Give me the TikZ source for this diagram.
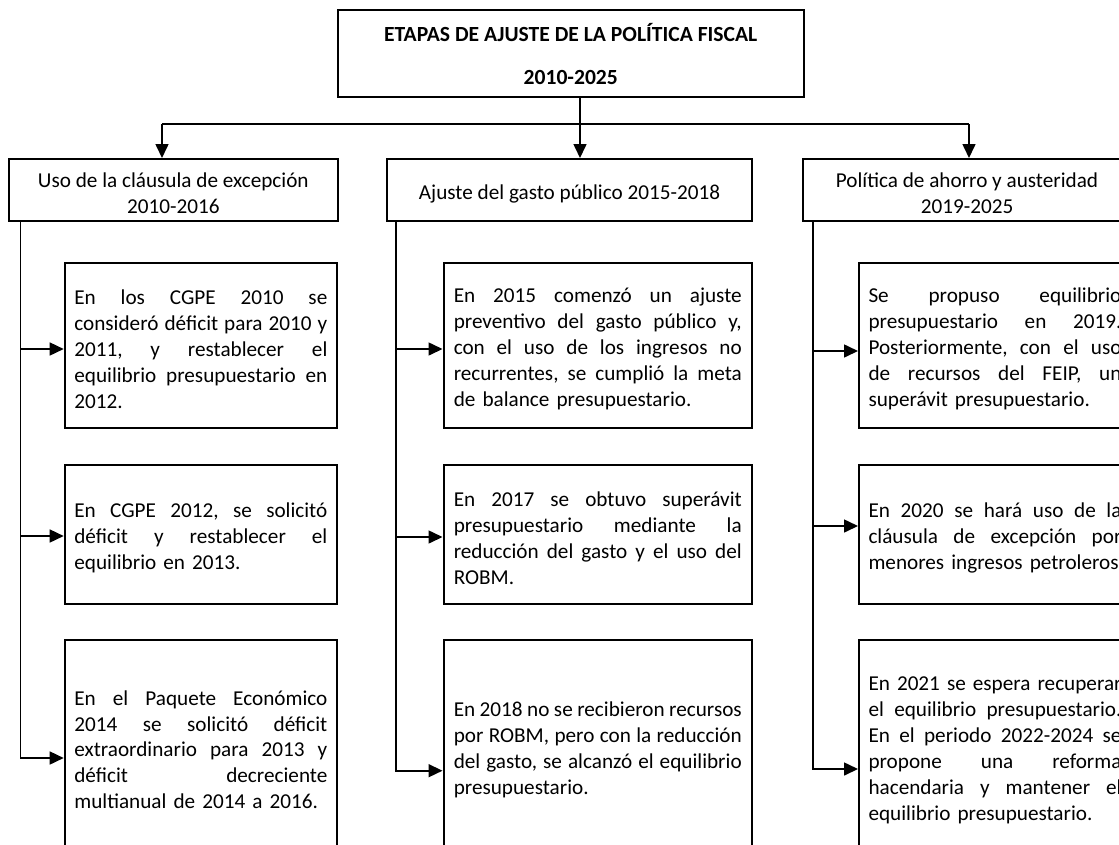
\documentclass[tikz,border=0pt]{standalone}
\usepackage{fontspec}
\setmainfont{Carlito}
\usetikzlibrary{arrows.meta}
\newcommand\bodyfs{\fontsize{21.2}{25.9}\selectfont\setlength\parindent{0pt}}
\newcommand\titlefs{\fontsize{21.6}{25.8}\selectfont\bfseries}
\newcommand\jset{\frenchspacing\spaceskip=\fontdimen2\font plus 1fil minus .3\fontdimen2\font}
\newcommand\ja[1]{{\jset\makebox[253pt][s]{#1}}}
\newcommand\jb[1]{{\jset\makebox[288pt][s]{#1}}}
\newcommand\topstrut{\rule{0pt}{22pt}}
\tikzset{
  bx/.style={draw, line width=2pt, inner sep=0pt, font=\bodyfs},
  ttl/.style={bx, align=center, font=\titlefs, minimum width=466.5pt, minimum height=87.3pt},
  lvone/.style={bx, align=center, minimum height=61.7pt},
  cola/.style={bx, align=left, text width=253pt, minimum width=272.3pt},
  colb/.style={bx, align=left, text width=288pt, minimum width=308.5pt},
  colc/.style={bx, align=left, text width=253pt, minimum width=272pt},
  rowa/.style={minimum height=165.3pt},
  rowb/.style={minimum height=138.5pt},
  rowc/.style={minimum height=212pt},
  ln/.style={line width=1.6pt},
  arr/.style={line width=1.6pt, -{Triangle[length=14pt,width=13pt]}},
}
\begin{document}
\begin{tikzpicture}[x=1pt,y=-1pt]
\useasboundingbox (0,0) rectangle (1119,844);
\fill[white] (0,0) rectangle (1119,844);
\clip (0,0) rectangle (1119,844);

% title
\node[ttl] (title) at (570.75,53.65) {ETAPAS DE AJUSTE DE LA POLÍTICA FISCAL\\[16.9pt]2010-2025};

% level one
\node[lvone, minimum width=329.4pt] (l1) at (173.3,189.85) {\topstrut Uso de la cláusula de excepción\\2010-2016};
\node[lvone, minimum width=365pt] (l2) at (569.5,189.85) {\topstrut Ajuste del gasto público 2015-2018};
\node[lvone, minimum width=328pt] (l3) at (967,189.85) {\topstrut Política de ahorro y austeridad\\2019-2025};

% column 1
\node[cola, rowa] (c1r1) at (200.85,345.35) {\topstrut\ja{En los CGPE 2010 se}\\\ja{consideró déficit para 2010 y}\\\ja{2011, y restablecer el}\\\ja{equilibrio presupuestario en}\\\mbox{2012.}};
\node[cola, rowb] (c1r2) at (200.85,534.25) {\topstrut\ja{En CGPE 2012, se solicitó}\\\ja{déficit y restablecer el}\\\mbox{equilibrio en 2013.}};
\node[cola, rowc] (c1r3) at (200.85,746) {\topstrut\ja{En el Paquete Económico}\\\ja{2014 se solicitó déficit}\\\ja{extraordinario para 2013 y}\\\ja{déficit decreciente}\\\mbox{multianual de 2014 a 2016.}};

% column 2
\node[colb, rowa] (c2r1) at (597.75,345.35) {\topstrut\jb{En 2015 comenzó un ajuste}\\\jb{preventivo del gasto público y,}\\\jb{con el uso de los ingresos no}\\\jb{recurrentes, se cumplió la meta}\\\mbox{de balance presupuestario.}};
\node[colb, rowb] (c2r2) at (597.75,534.25) {\topstrut\jb{En 2017 se obtuvo superávit}\\\jb{presupuestario mediante la}\\\jb{reducción del gasto y el uso del}\\\mbox{ROBM.}};
\node[colb, rowc] (c2r3) at (597.75,746) {\topstrut\jb{En 2018 no se recibieron recursos}\\\jb{por ROBM, pero con la reducción}\\\jb{del gasto, se alcanzó el equilibrio}\\\mbox{presupuestario.}};

% column 3
\node[colc, rowa] (c3r1) at (995,345.35) {\topstrut\ja{Se propuso equilibrio}\\\ja{presupuestario en 2019.}\\\ja{Posteriormente, con el uso}\\\ja{de recursos del FEIP, un}\\\mbox{superávit presupuestario.}};
\node[colc, rowb] (c3r2) at (995,534.25) {\topstrut\ja{En 2020 se hará uso de la}\\\ja{cláusula de excepción por}\\\mbox{menores ingresos petroleros.}};
\node[colc, rowc] (c3r3) at (995,746) {\topstrut\ja{En 2021 se espera recuperar}\\\ja{el equilibrio presupuestario.}\\\ja{En el periodo 2022-2024 se}\\\ja{propone una reforma}\\\ja{hacendaria y mantener el}\\\mbox{equilibrio presupuestario.}};

% top connectors
\coordinate (jl) at (162,124);
\coordinate (jm) at (580,124);
\coordinate (jr) at (969,124);
\draw[ln] (jl) -- (jr);
\draw[arr] (title.south -| jm) -- (l2.north -| jm);
\draw[arr] (jl) -- (l1.north -| jl);
\draw[arr] (jr) -- (l3.north -| jr);

% column 1 connectors
\coordinate (ka1) at (20.4,349);
\coordinate (ka2) at (20.4,536);
\coordinate (ka3) at (20.4,758);
\draw[arr] (l1.south -| ka3) -- (ka3) -- (c1r3.west |- ka3);
\draw[arr] (ka1) -- (c1r1.west |- ka1);
\draw[arr] (ka2) -- (c1r2.west |- ka2);

% column 2 connectors
\coordinate (kb1) at (396,349);
\coordinate (kb2) at (396,537);
\coordinate (kb3) at (396,770.7);
\draw[arr] (l2.south -| kb3) -- (kb3) -- (c2r3.west |- kb3);
\draw[arr] (kb1) -- (c2r1.west |- kb1);
\draw[arr] (kb2) -- (c2r2.west |- kb2);

% column 3 connectors
\coordinate (kc1) at (813,351);
\coordinate (kc2) at (813,526);
\coordinate (kc3) at (813,769);
\draw[arr] (l3.south -| kc3) -- (kc3) -- (c3r3.west |- kc3);
\draw[arr] (kc1) -- (c3r1.west |- kc1);
\draw[arr] (kc2) -- (c3r2.west |- kc2);
\end{tikzpicture}
\end{document}
